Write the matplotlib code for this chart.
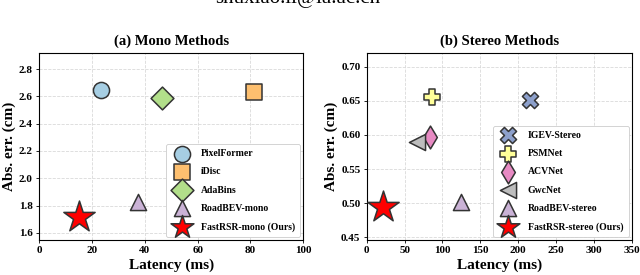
import matplotlib.pyplot as plt

plt.rcParams['font.family'] = ['Liberation Serif', 'DejaVu Serif']
plt.rcParams['font.weight'] = 'bold'

# (a) mono methods
mono_names = ['PixelFormer', 'iDisc', 'AdaBins', 'RoadBEV-mono', 'FastRSR-mono (Ours)']
mono_lat = [23.5, 81.5, 46.5, 37.3, 15.0]
mono_err = [2.65, 2.635, 2.59, 1.826, 1.717]
mono_markers = ['o', 's', 'D', '^', '*']
mono_colors = ['#a6cee3', '#fdbf6f', '#b2df8a', '#cab2d6', '#ff0000']

# (b) stereo methods
stereo_names = ['IGEV-Stereo', 'PSMNet', 'ACVNet', 'GwcNet', 'RoadBEV-stereo', 'FastRSR-stereo (Ours)']
stereo_lat = [216, 86, 83.5, 67, 125, 21]
stereo_err = [0.651, 0.655, 0.597, 0.589, 0.502, 0.495]
stereo_markers = ['X', 'P', 'd', '<', '^', '*']
stereo_colors = ['#8da0cb', '#ffff99', '#e78ac3', '#bdbdbd', '#cab2d6', '#ff0000']

fig = plt.figure(figsize=(6.4, 2.75), dpi=100)
fig.text(0.465, 0.99, 'shuxiao.li@ia.ac.cn', ha='center', va='baseline',
         fontsize=15, fontweight='normal')

ax1 = fig.add_axes([0.061, 0.127, 0.413, 0.68])
ax2 = fig.add_axes([0.573, 0.127, 0.414, 0.68])


def draw(ax, names, xs, ys, markers, colors):
    for n, x, y, m, c in zip(names, xs, ys, markers, colors):
        s = 560 if m == '*' else 135
        ax.scatter(x, y, s=s, marker=m, c=c, edgecolors='#333333',
                   linewidths=1.1, label=n, zorder=3)
    ax.grid(True, linestyle='--', color='#d9d9d9', linewidth=0.6)
    ax.set_axisbelow(True)
    ax.set_xlabel('Latency (ms)', fontsize=11, fontweight='bold', labelpad=2)
    ax.set_ylabel('Abs. err. (cm)', fontsize=11, fontweight='bold', labelpad=2)
    ax.tick_params(labelsize=8, length=2.5, width=0.6, pad=2)
    for sp in ax.spines.values():
        sp.set_linewidth(0.8)
    leg = ax.legend(loc='lower right', fontsize=7, labelspacing=0.95,
                    borderpad=0.55, handletextpad=1.0, borderaxespad=0.3,
                    framealpha=1, edgecolor='#cccccc', fancybox=True)
    leg.get_frame().set_linewidth(0.6)
    for h, m in zip(leg.legend_handles, markers):
        h.set_sizes([300 if m == '*' else 135])


draw(ax1, mono_names, mono_lat, mono_err, mono_markers, mono_colors)
ax1.set_xlim(0, 100)
ax1.set_ylim(1.547, 2.917)
ax1.set_yticks([1.6, 1.8, 2.0, 2.2, 2.4, 2.6, 2.8])
ax1.set_title('(a) Mono Methods', fontsize=10.5, fontweight='bold', pad=6)

draw(ax2, stereo_names, stereo_lat, stereo_err, stereo_markers, stereo_colors)
ax2.set_xlim(0, 350)
ax2.set_ylim(0.446, 0.72)
ax2.set_yticks([0.45, 0.50, 0.55, 0.60, 0.65, 0.70])
ax2.set_title('(b) Stereo Methods', fontsize=10.5, fontweight='bold', pad=6)

fig.savefig('out.png', dpi=100)
